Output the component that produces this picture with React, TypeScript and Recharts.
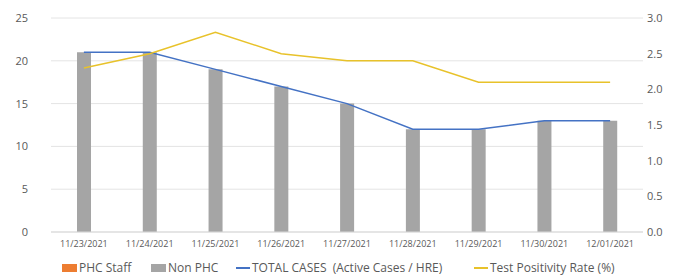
import React from "react";
import {
  ComposedChart,
  Bar,
  Line,
  XAxis,
  YAxis,
  CartesianGrid,
  Legend,
} from "recharts";

const dates = [
  "11/23/2021",
  "11/24/2021",
  "11/25/2021",
  "11/26/2021",
  "11/27/2021",
  "11/28/2021",
  "11/29/2021",
  "11/30/2021",
  "12/01/2021",
];
const phcStaff = [0, 0, 0, 0, 0, 0, 0, 0, 0];
const nonPhc = [21, 21, 19, 17, 15, 12, 12, 13, 13];
const totalCases = [21, 21, 19, 17, 15, 12, 12, 13, 13];
const positivity = [2.3, 2.5, 2.8, 2.5, 2.4, 2.4, 2.1, 2.1, 2.1];

const leftTicks = [0, 5, 10, 15, 20, 25];
const rightTicks = [0, 0.5, 1, 1.5, 2, 2.5, 3];

const data = dates.map((d, i) => ({
  date: d,
  phc: phcStaff[i],
  non: nonPhc[i],
  total: totalCases[i],
  rate: positivity[i],
}));

const FONT = "'Open Sans', sans-serif";
const TEXT = "#595959";

const legendItems = [
  { label: "PHC Staff", color: "#ed7d31", kind: "box", left: 62 },
  { label: "Non PHC", color: "#a5a5a5", kind: "box", left: 151 },
  { label: "TOTAL CASES  (Active Cases / HRE)", color: "#4472c4", kind: "line", left: 236 },
  { label: "Test Positivity Rate (%)", color: "#e8c22a", kind: "line", left: 474 },
];

const ChartLegend = () => (
  <div
    style={{
      position: "relative",
      height: 22,
      fontFamily: FONT,
      fontSize: 12,
      color: TEXT,
      whiteSpace: "pre",
    }}
  >
    {legendItems.map((it) => (
      <div
        key={it.label}
        style={{
          position: "absolute",
          left: it.left,
          top: 5,
          display: "flex",
          alignItems: "center",
        }}
      >
        <span
          style={{
            display: "inline-block",
            width: it.kind === "box" ? 15 : 14,
            height: it.kind === "box" ? 8 : 2,
            background: it.color,
            marginRight: 2,
          }}
        />
        <span>{it.label}</span>
      </div>
    ))}
  </div>
);

const App: React.FC = () => {
  return (
    <div style={{ position: "absolute", left: 0, top: 0, background: "#fff" }}>
      <ComposedChart
        width={679}
        height={276}
        data={data}
        margin={{ top: 18, right: 0, left: 0, bottom: 0 }}
        barCategoryGap={0}
      >
        <CartesianGrid vertical={false} stroke="#e4e4e4" yAxisId="left" />
        <XAxis
          dataKey="date"
          tickLine={false}
          axisLine={{ stroke: "#d9d9d9" }}
          tickSize={0}
          tickMargin={9}
          height={22}
          interval={0}
          tick={{ fill: TEXT, fontSize: 9, fontFamily: FONT }}
        />
        <YAxis
          yAxisId="left"
          domain={[0, 25]}
          ticks={leftTicks}
          width={51}
          axisLine={false}
          tickLine={false}
          tickSize={0}
          tickMargin={23}
          tick={{ fill: TEXT, fontSize: 11, fontFamily: FONT }}
        />
        <YAxis
          yAxisId="right"
          orientation="right"
          domain={[0, 3]}
          ticks={rightTicks}
          tickFormatter={(v: number) => v.toFixed(1)}
          width={36}
          axisLine={false}
          tickLine={false}
          tickSize={0}
          tickMargin={4}
          tick={{ fill: TEXT, fontSize: 11, fontFamily: FONT, textAnchor: "start" }}
        />
        <Bar
          yAxisId="left"
          dataKey="phc"
          name="PHC Staff"
          stackId="s"
          fill="#ed7d31"
          barSize={14}
          isAnimationActive={false}
        />
        <Bar
          yAxisId="left"
          dataKey="non"
          name="Non PHC"
          stackId="s"
          fill="#a5a5a5"
          barSize={14}
          isAnimationActive={false}
        />
        <Line
          yAxisId="left"
          dataKey="total"
          name="TOTAL CASES (Active Cases / HRE)"
          stroke="#4472c4"
          strokeWidth={1.5}
          dot={false}
          isAnimationActive={false}
        />
        <Line
          yAxisId="right"
          dataKey="rate"
          name="Test Positivity Rate (%)"
          stroke="#e8c22a"
          strokeWidth={1.5}
          dot={false}
          isAnimationActive={false}
        />
        <Legend verticalAlign="bottom" height={22} content={<ChartLegend />} />
      </ComposedChart>
    </div>
  );
};

export default App;
